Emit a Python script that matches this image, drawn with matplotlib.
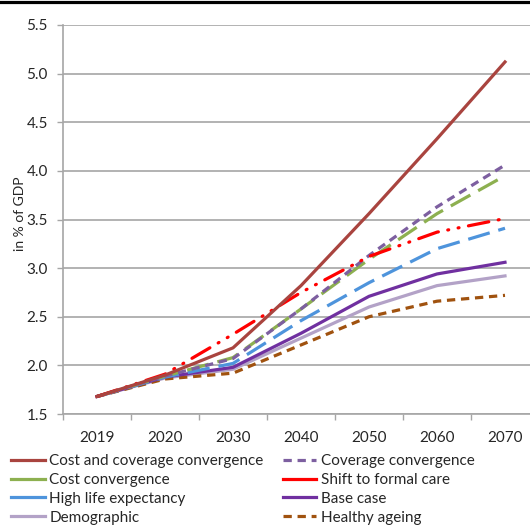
import matplotlib
matplotlib.use("Agg")
import matplotlib.pyplot as plt
from matplotlib.lines import Line2D

years = ["2019", "2020", "2030", "2040", "2050", "2060", "2070"]

cost_cov_conv = [1.68, 1.90, 2.18, 2.82, 3.56, 4.33, 5.12]
coverage_conv = [1.68, 1.89, 2.07, 2.58, 3.13, 3.63, 4.06]
cost_conv     = [1.68, 1.89, 2.08, 2.58, 3.09, 3.56, 3.95]
shift_formal  = [1.68, 1.91, 2.32, 2.75, 3.12, 3.37, 3.51]
high_life     = [1.68, 1.88, 2.02, 2.46, 2.85, 3.20, 3.41]
base_case     = [1.68, 1.88, 1.98, 2.33, 2.71, 2.94, 3.06]
demographic   = [1.68, 1.87, 1.96, 2.28, 2.60, 2.82, 2.92]
healthy_age   = [1.68, 1.86, 1.92, 2.21, 2.50, 2.66, 2.72]

labels = ["Cost and coverage convergence", "Coverage convergence", "Cost convergence",
          "Shift to formal care", "High life expectancy", "Base case", "Demographic",
          "Healthy ageing"]
yticks = [1.5, 2.0, 2.5, 3.0, 3.5, 4.0, 4.5, 5.0, 5.5]

plt.rcParams['font.family'] = ['Lato', 'DejaVu Sans']

fig = plt.figure(figsize=(5.30, 5.28), dpi=100)
ax = fig.add_axes([63/530, 1 - 414/528, 476/530, (414 - 25)/528])

x = list(range(len(years)))
lw = 2.3
styles = [
    dict(color="#A9443F", ls="-"),
    dict(color="#7D5FA0", ls=(0, (2.6, 1.8))),
    dict(color="#8DB050", ls=(0, (7, 2.8))),
    dict(color="#FF0000", ls=(0, (6.5, 3, 0.3, 3, 0.3, 3))),
    dict(color="#4E94DC", ls=(0, (7, 2.8))),
    dict(color="#7030A0", ls="-"),
    dict(color="#B3A2C7", ls="-"),
    dict(color="#A0520F", ls=(0, (2.6, 1.8))),
]
series = [cost_cov_conv, coverage_conv, cost_conv, shift_formal, high_life,
          base_case, demographic, healthy_age]
# draw in reverse order so the top series lies on top
order = [6, 7, 5, 4, 2, 1, 3, 0]
for k, i in enumerate(order):
    st = styles[i]
    ax.plot(x, series[i], color=st["color"], linestyle=st["ls"], lw=lw,
            dash_capstyle="round" if i == 3 else "butt", zorder=3 + k * 0.01)

ax.set_xlim(-0.5, 6.5)
ax.set_ylim(1.5, 5.5)
ax.set_yticks(yticks)
ax.set_yticklabels([f"{v:.1f}" for v in yticks])
ax.set_xticks(x)
ax.set_xticklabels(years)
ax.set_xticks([i - 0.5 for i in range(len(years) + 1)], minor=True)
ax.tick_params(axis="x", which="major", length=0, pad=12, labelsize=11, colors="#262626")
ax.tick_params(axis="x", which="minor", length=4, width=1, color="#A6A6A6", direction="out")
ax.tick_params(axis="y", which="major", length=4, width=1, color="#A6A6A6", pad=7,
               labelsize=11, labelcolor="#262626")
ax.grid(axis="y", color="#A6A6A6", lw=1.2)
ax.set_axisbelow(True)
for s in ["top", "right"]:
    ax.spines[s].set_visible(False)
for s in ["left", "bottom"]:
    ax.spines[s].set_color("#A6A6A6")
    ax.spines[s].set_linewidth(1.2)

fig.text(20/530, 1 - 214/528, "in % of GDP", rotation=90, ha="center", va="center",
         fontsize=10, color="#262626")

# legend (column-major order)
def h(i, solid=False):
    st = styles[i]
    return Line2D([0], [0], color=st["color"], lw=lw, linestyle="-" if solid else st["ls"])

handles = [h(0), h(2, True), h(4, True), h(6), h(1), h(3, True), h(5), h(7)]
leg_labels = [labels[0], labels[2], labels[4], labels[6], labels[1], labels[3], labels[5], labels[7]]
fig.legend(handles, leg_labels, ncol=2, loc="upper left", bbox_to_anchor=(8/530, 1 - 451/528),
           frameon=False, fontsize=11, handlelength=2.2, handletextpad=0.3,
           columnspacing=1.25, labelspacing=0.32, borderaxespad=0, borderpad=0.2,
           labelcolor="#262626")

fig.add_artist(Line2D([0, 1], [1 - 1.5/528, 1 - 1.5/528], transform=fig.transFigure,
                      color="black", lw=2.3))

fig.savefig("out.png", dpi=100)
